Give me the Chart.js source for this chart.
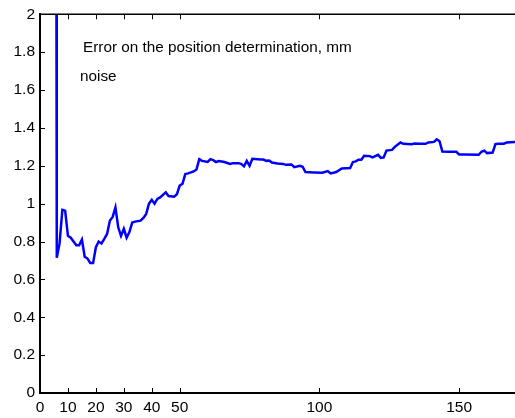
<!DOCTYPE html>
<html>
<head>
<meta charset="utf-8">
<script src="https://cdn.jsdelivr.net/npm/chart.js@4/dist/chart.umd.min.js"></script>
<style>
    html, body { margin: 0; padding: 0; background: #fff; }
    #wrap { width: 515px; height: 418px; }
</style>
</head>
<body>
<div id="wrap"><canvas id="main_chart" width="515" height="418"></canvas></div>
<script>
// x positions (samples) and error values
const sampleX = [5.8, 6, 7, 8, 9, 10, 11, 13, 14, 15, 16, 17, 18, 19, 20, 21, 22, 23, 24, 25,
    26, 27, 28, 29, 30, 31, 32, 33, 34, 36, 37, 38, 39, 40, 41, 42, 43, 45, 46, 48,
    49, 50, 51, 52, 53, 55, 56, 57, 58, 60, 61, 62, 63, 64, 66, 68, 69, 71, 72, 73,
    74, 75, 76, 79, 80, 81, 82, 83, 85, 87, 88, 90, 91, 93, 94, 95, 98, 101, 103, 104,
    106, 108, 111, 112, 113, 114, 115, 116, 118, 119, 121, 122, 123, 124, 126, 127, 129, 130, 133, 134,
    136, 138, 139, 141, 142, 143, 144, 146, 149, 150, 152, 157, 158, 159, 160, 162, 163, 164, 166, 167, 170];
const errorValues = [3.0, 0.714, 0.79, 0.967, 0.963, 0.83, 0.82, 0.78, 0.78, 0.81, 0.72, 0.71, 0.686, 0.686, 0.77, 0.80, 0.79, 0.814, 0.84, 0.91,
    0.93, 0.98, 0.875, 0.83, 0.867, 0.82, 0.85, 0.90, 0.905, 0.91, 0.925, 0.946, 1.0, 1.02, 1.0, 1.025, 1.033, 1.06, 1.04, 1.037,
    1.05, 1.095, 1.105, 1.156, 1.16, 1.17, 1.18, 1.235, 1.226, 1.22, 1.235, 1.23, 1.22, 1.225, 1.22, 1.21, 1.214, 1.214, 1.21, 1.197,
    1.226, 1.2, 1.237, 1.233, 1.233, 1.226, 1.228, 1.217, 1.212, 1.21, 1.205, 1.207, 1.193, 1.2, 1.195, 1.167, 1.165, 1.163, 1.172, 1.16,
    1.167, 1.186, 1.188, 1.22, 1.223, 1.232, 1.232, 1.253, 1.251, 1.244, 1.258, 1.242, 1.244, 1.28, 1.284, 1.30, 1.323, 1.316, 1.314, 1.317,
    1.316, 1.316, 1.323, 1.326, 1.34, 1.33, 1.275, 1.274, 1.274, 1.26, 1.26, 1.258, 1.274, 1.28, 1.267, 1.27, 1.314, 1.317, 1.317, 1.323, 1.325];
const xTicks = [0, 10, 20, 30, 40, 50, 100, 150];
const yTicks = [0, 0.2, 0.4, 0.6, 0.8, 1, 1.2, 1.4, 1.6, 1.8, 2];
const textLines = ['Error on the position determination, mm', 'noise'];

const FONT = '"Liberation Sans", Arial, sans-serif';

// frame on top, inward tick marks and the text inside the axes
const framePlugin = {
    id: 'frame',
    afterDraw(chart) {
        const c = chart.ctx;
        const a = chart.chartArea;
        const xs = chart.scales.x;
        const ys = chart.scales.y;
        c.save();
        c.strokeStyle = '#000';
        c.lineWidth = 1.5;
        c.beginPath();
        c.moveTo(a.left, a.top);
        c.lineTo(a.right, a.top);
        c.stroke();
        c.lineWidth = 1;
        c.beginPath();
        xTicks.forEach(v => {
            const px = Math.round(xs.getPixelForValue(v)) + 0.5;
            c.moveTo(px, a.bottom);
            c.lineTo(px, a.bottom - 5);
            c.moveTo(px, a.top);
            c.lineTo(px, a.top + 5);
        });
        yTicks.forEach(v => {
            const py = Math.round(ys.getPixelForValue(v)) + 0.5;
            c.moveTo(a.left, py);
            c.lineTo(a.left + 5, py);
        });
        c.stroke();
        c.fillStyle = '#000';
        c.font = '15.3px ' + FONT;
        c.textBaseline = 'alphabetic';
        c.fillText(textLines[0], 83, 52);
        c.fillText(textLines[1], 80, 81);
        c.restore();
    }
};

const ctx = document.getElementById('main_chart').getContext('2d');
const mainChart = new Chart(ctx, {
    type: 'line',
    data: {
        datasets: [{
            data: sampleX.map((x, i) => ({ x: x, y: errorValues[i] })),
            borderColor: '#0000ff',
            borderWidth: 2.5,
            pointRadius: 0,
            tension: 0,
            fill: false
        }]
    },
    options: {
        responsive: false,
        animation: false,
        layout: { padding: { top: 13, right: 0, left: 0, bottom: 0 } },
        plugins: {
            legend: { display: false },
            tooltip: { enabled: false }
        },
        scales: {
            x: {
                type: 'linear',
                min: 0,
                max: 170,
                afterBuildTicks: (scale) => { scale.ticks = xTicks.map(v => ({ value: v })); },
                afterFit: (scale) => { scale.height = 25; },
                border: { display: true, color: '#000', width: 2 },
                grid: { display: false, drawTicks: false },
                ticks: {
                    color: '#000',
                    padding: 5,
                    maxRotation: 0,
                    autoSkip: false,
                    font: { family: FONT, size: 15.5 },
                    callback: (v) => String(v)
                }
            },
            y: {
                min: 0,
                max: 2,
                afterBuildTicks: (scale) => { scale.ticks = yTicks.map(v => ({ value: v })); },
                afterFit: (scale) => { scale.width = 40; },
                border: { display: true, color: '#000', width: 2 },
                grid: { display: false, drawTicks: false },
                ticks: {
                    color: '#000',
                    padding: 5,
                    font: { family: FONT, size: 15.5 },
                    callback: (v) => String(v)
                }
            }
        }
    },
    plugins: [framePlugin]
});
</script>
</body>
</html>
